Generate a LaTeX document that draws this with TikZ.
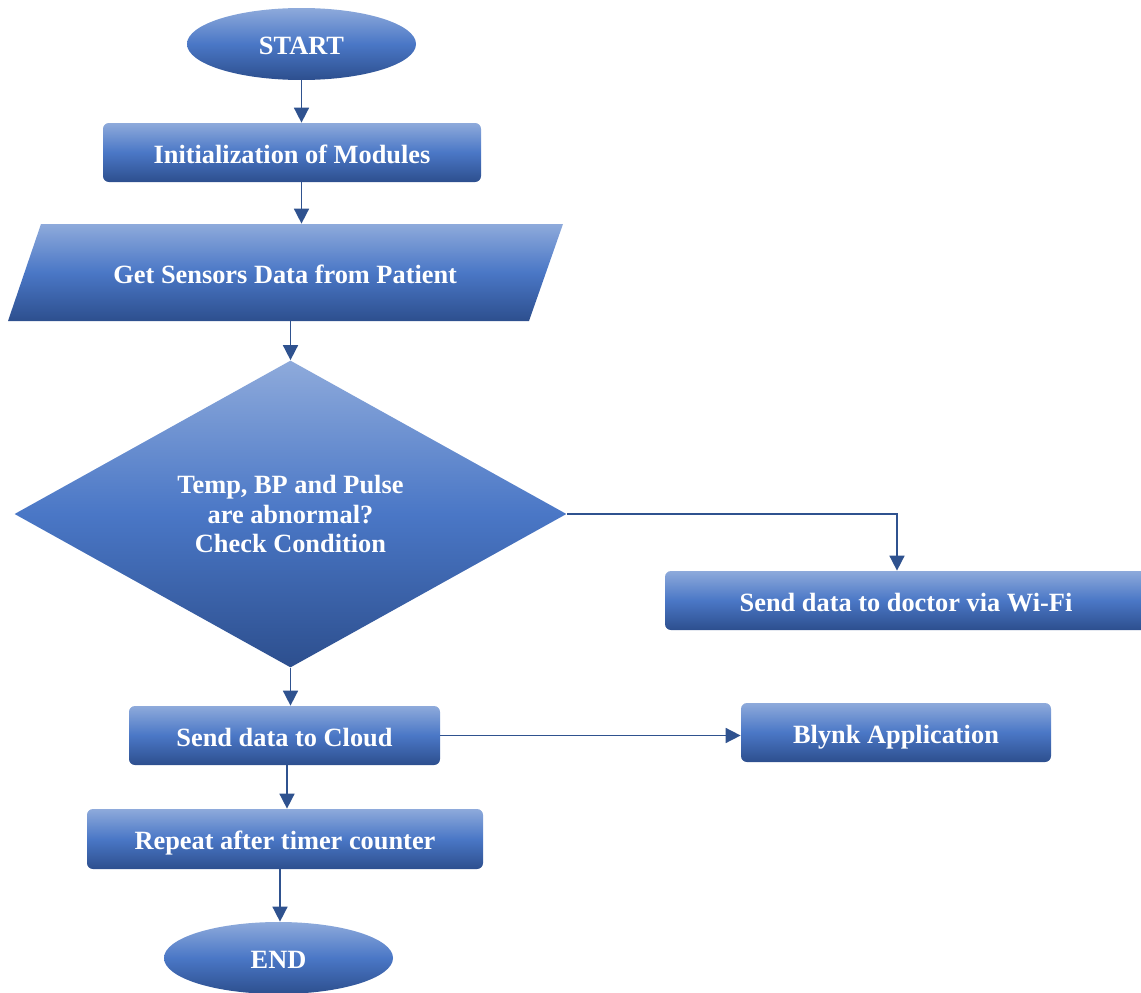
\documentclass[tikz,border=0pt]{standalone}
\usepackage{fontspec}
\setmainfont{Liberation Serif}
\usetikzlibrary{shapes.geometric,arrows.meta}
\definecolor{gtop}{HTML}{8EAADB}
\definecolor{gmid}{HTML}{4A77C6}
\definecolor{gbot}{HTML}{2D4F8E}
\definecolor{lineblue}{HTML}{2F528F}
\tikzset{
  grad/.style={top color=gtop, bottom color=gbot, middle color=gmid},
  txt/.style={text=white, font=\fontsize{15}{17}\selectfont\bfseries, align=center, inner sep=0pt, text height=13.6pt, text depth=1.6pt},
  terminal/.style={grad, txt, ellipse, minimum width=4.58cm, minimum height=1.44cm},
  procbox/.style={grad, txt, rectangle, rounded corners=3.4pt, minimum height=1.18cm},
  decision/.style={grad, txt, text height=, text depth=, diamond, aspect=1.8, minimum width=11.04cm, minimum height=6.14cm},
  arr/.style={draw=lineblue, line width=0.9pt, -{Triangle[length=8.5pt,width=8.5pt]}}
}
\begin{document}
\begin{tikzpicture}
\useasboundingbox (0,0) rectangle (22.82,-19.86);
\node[terminal] (start) at (6.03,-0.88) {START};
\node[procbox, minimum width=7.56cm] (init) at (5.84,-3.05) {Initialization of Modules};
\shade[grad] (0.82,-4.48) -- (11.26,-4.48) -- (10.58,-6.42) -- (0.16,-6.42) -- cycle;
\node[txt, minimum width=10.4cm, minimum height=1.94cm] (para) at (5.705,-5.45) {Get Sensors Data from Patient};
\node[decision] (dia) at (5.81,-10.28) {Temp, BP and Pulse\\are abnormal?\\Check Condition};
\node[procbox, minimum width=9.64cm] (doc) at (18.12,-12.01) {Send data to doctor via Wi-Fi};
\coordinate (dtop) at ([xshift=-0.18cm]doc.north);
\node[procbox, minimum width=6.22cm] (cloud) at (5.69,-14.71) {Send data to Cloud};
\node[procbox, minimum width=6.2cm] (blynk) at (17.92,-14.65) {Blynk Application};
\node[procbox, minimum width=7.92cm, minimum height=1.2cm] (rep) at (5.70,-16.78) {Repeat after timer counter};
\node[terminal] (end) at (5.57,-19.16) {END};
\coordinate (c1) at ([xshift=0.05cm]cloud.south);
\coordinate (e1) at ([xshift=0.03cm]end.north);

\draw[arr] (start.south) -- (start.south |- init.north);
\draw[arr] (init.south -| start.south) -- (para.north -| start.south);
\draw[arr] (para.south -| dia.north) -- (dia.north);
\draw[arr] (dia.east) -| (dtop);
\draw[arr] (dia.south) -- (dia.south |- cloud.north);
\draw[arr] (cloud.east) -- (cloud.east -| blynk.west);
\draw[arr] (c1) -- (c1 |- rep.north);
\draw[arr] (e1 |- rep.south) -- (e1);
\end{tikzpicture}
\end{document}
